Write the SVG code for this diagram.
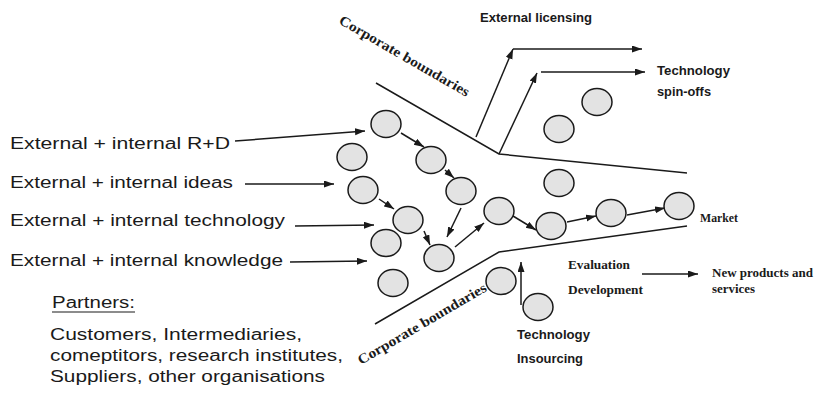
<svg xmlns="http://www.w3.org/2000/svg" width="816" height="403" viewBox="0 0 816 403">
<style>
.n{fill:#e3e3e3;stroke:#1a1a1a;stroke-width:1.5}
.c{fill:none;stroke:#1a1a1a;stroke-width:1.5}
.a{fill:none;stroke:#1a1a1a;stroke-width:1.5;marker-end:url(#ah)}
.lbl{font-family:"Liberation Sans",Arial,sans-serif;font-size:16px;fill:#1a1a1a}
.sb{font-family:"Liberation Sans",Arial,sans-serif;font-size:12px;font-weight:bold;fill:#1a1a1a}
.tb{font-family:"Liberation Serif","Times New Roman",serif;font-size:11.5px;font-weight:bold;fill:#1a1a1a}
.cb{font-family:"Liberation Serif","Times New Roman",serif;font-size:14px;font-weight:bold;fill:#1a1a1a}
</style>
<defs>
<marker id="ah" markerUnits="userSpaceOnUse" markerWidth="11" markerHeight="8" refX="10" refY="3.5" orient="auto">
<path d="M0,0 L10,3.5 L0,7 z" fill="#1a1a1a"/>
</marker>
</defs>
<rect width="816" height="403" fill="#ffffff"/>
<g id="boundaries">
<polyline class="c" points="376,83 499,154 687,173"/>
<polyline class="c" points="375,324 499,252 687,226"/>
</g>
<g id="connectors">
<line class="a" x1="235" y1="141" x2="365" y2="131"/>
<line class="a" x1="245" y1="184" x2="334" y2="184"/>
<line class="a" x1="295" y1="226" x2="374" y2="225"/>
<line class="a" x1="290" y1="262" x2="367" y2="261"/>
<line class="a" x1="401" y1="133" x2="424" y2="147"/>
<line class="a" x1="445" y1="170" x2="454" y2="178"/>
<line class="a" x1="379" y1="199" x2="394" y2="209"/>
<line class="a" x1="424" y1="231" x2="430" y2="245"/>
<line class="a" x1="461" y1="208" x2="447" y2="237"/>
<line class="a" x1="455" y1="247" x2="484" y2="223"/>
<line class="a" x1="513" y1="216" x2="536" y2="230"/>
<line class="a" x1="567" y1="222" x2="596" y2="216"/>
<line class="a" x1="627" y1="215" x2="665" y2="208"/>
<line class="a" x1="476" y1="137" x2="513" y2="49"/>
<line class="a" x1="513" y1="49" x2="642" y2="49"/>
<line class="a" x1="499" y1="154" x2="537" y2="73"/>
<line class="a" x1="541" y1="72" x2="645" y2="72"/>
<line class="a" x1="521" y1="305" x2="521" y2="262"/>
<line class="a" x1="642" y1="274" x2="698" y2="274"/>
</g>
<g id="n1"><ellipse class="n" cx="386" cy="124" rx="15" ry="13.5"/></g>
<g id="n2"><ellipse class="n" cx="352" cy="157" rx="15" ry="13.5"/></g>
<g id="n3"><ellipse class="n" cx="431" cy="160" rx="15" ry="13.5"/></g>
<g id="n4"><ellipse class="n" cx="363" cy="190" rx="15" ry="13.5"/></g>
<g id="n5"><ellipse class="n" cx="461" cy="191" rx="15" ry="13.5"/></g>
<g id="n6"><ellipse class="n" cx="408" cy="220" rx="15" ry="13.5"/></g>
<g id="n7"><ellipse class="n" cx="386" cy="243" rx="15" ry="13.5"/></g>
<g id="n8"><ellipse class="n" cx="439" cy="258" rx="15" ry="13.5"/></g>
<g id="n9"><ellipse class="n" cx="499" cy="211" rx="15" ry="13.5"/></g>
<g id="n10"><ellipse class="n" cx="393" cy="283" rx="15" ry="13.5"/></g>
<g id="n11"><ellipse class="n" cx="501" cy="281" rx="15" ry="13.5"/></g>
<g id="n12"><ellipse class="n" cx="538" cy="307" rx="15" ry="13.5"/></g>
<g id="n13"><ellipse class="n" cx="559" cy="183" rx="15" ry="13.5"/></g>
<g id="n14"><ellipse class="n" cx="551" cy="226" rx="15" ry="13.5"/></g>
<g id="n15"><ellipse class="n" cx="611" cy="213" rx="15" ry="13.5"/></g>
<g id="n16"><ellipse class="n" cx="679" cy="206" rx="15" ry="13.5"/></g>
<g id="n17"><ellipse class="n" cx="597" cy="102" rx="15" ry="13.5"/></g>
<g id="n18"><ellipse class="n" cx="559" cy="129" rx="15" ry="13.5"/></g>
<g id="labels">
<text class="lbl" x="10" y="149" textLength="220" lengthAdjust="spacingAndGlyphs">External + internal R+D</text>
<text class="lbl" x="10" y="188" textLength="223" lengthAdjust="spacingAndGlyphs">External + internal ideas</text>
<text class="lbl" x="10" y="226" textLength="275" lengthAdjust="spacingAndGlyphs">External + internal technology</text>
<text class="lbl" x="10" y="266" textLength="273" lengthAdjust="spacingAndGlyphs">External + internal knowledge</text>
<text class="lbl" x="52" y="308" textLength="83" lengthAdjust="spacingAndGlyphs">Partners:</text>
<line x1="52" y1="312" x2="135" y2="312" stroke="#1a1a1a" stroke-width="1.2"/>
<text class="lbl" x="50" y="340" textLength="252" lengthAdjust="spacingAndGlyphs">Customers, Intermediaries,</text>
<text class="lbl" x="50" y="361" textLength="293" lengthAdjust="spacingAndGlyphs">comeptitors, research institutes,</text>
<text class="lbl" x="50" y="382" textLength="275" lengthAdjust="spacingAndGlyphs">Suppliers, other organisations</text>
<text class="sb" x="480" y="22" textLength="112" lengthAdjust="spacingAndGlyphs">External licensing</text>
<text class="sb" x="657" y="75" textLength="73" lengthAdjust="spacingAndGlyphs">Technology</text>
<text class="sb" x="657" y="96" textLength="54" lengthAdjust="spacingAndGlyphs">spin-offs</text>
<text class="sb" x="517" y="339" textLength="73" lengthAdjust="spacingAndGlyphs">Technology</text>
<text class="sb" x="517" y="363" textLength="66" lengthAdjust="spacingAndGlyphs">Insourcing</text>
<text class="tb" x="700" y="222" textLength="38" lengthAdjust="spacingAndGlyphs">Market</text>
<text class="tb" x="568" y="269" textLength="62" lengthAdjust="spacingAndGlyphs">Evaluation</text>
<text class="tb" x="568" y="294" textLength="75" lengthAdjust="spacingAndGlyphs">Development</text>
<text class="tb" x="712" y="277" textLength="101" lengthAdjust="spacingAndGlyphs">New products and</text>
<text class="tb" x="712" y="293" textLength="43" lengthAdjust="spacingAndGlyphs">services</text>
<text class="cb" transform="translate(338,23) rotate(30)" x="0" y="0" textLength="148" lengthAdjust="spacingAndGlyphs">Corporate boundaries</text>
<text class="cb" transform="translate(361,365) rotate(-30.5)" x="0" y="0" textLength="147" lengthAdjust="spacingAndGlyphs">Corporate boundaries</text>
</g>
</svg>
